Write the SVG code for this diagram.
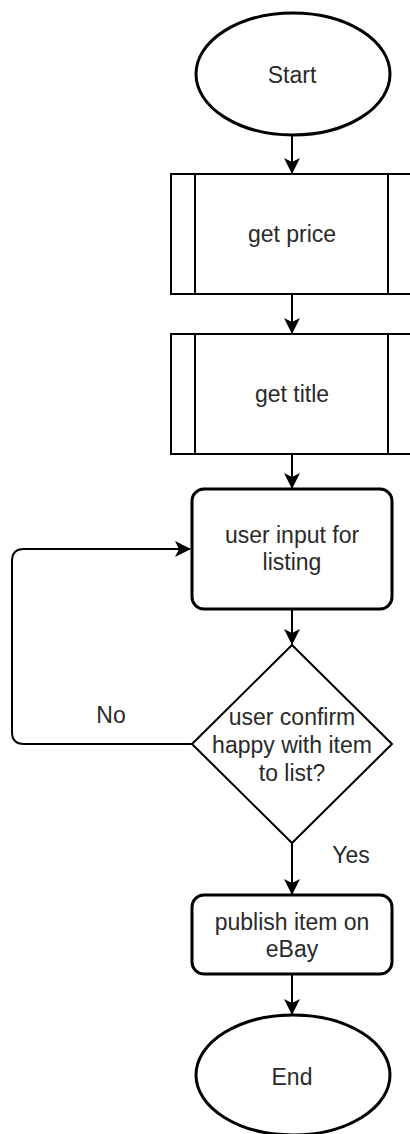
<svg xmlns="http://www.w3.org/2000/svg" width="410" height="1134" viewBox="0 0 410 1134">
  <style>
    .lbl { font-family: "Liberation Sans", Arial, sans-serif; font-size: 23px; fill: #2a2a2a; text-anchor: middle; }
    .term { fill: #fff; stroke: #000; stroke-width: 3; }
    .proc { fill: #fff; stroke: #000; stroke-width: 2; }
    .step { fill: #fff; stroke: #000; stroke-width: 3; }
    .dec { fill: #fff; stroke: #000; stroke-width: 2; }
    .edge { fill: none; stroke: #000; stroke-width: 2; }
  </style>
  <defs>
    <marker id="arrow" markerUnits="userSpaceOnUse" markerWidth="16" markerHeight="16" viewBox="0 0 16 16" refX="15" refY="8" orient="auto">
      <path d="M0,0 L16,8 L0,16 L4,8 Z" fill="#000"/>
    </marker>
  </defs>
  <rect width="410" height="1134" fill="#fff"/>

  <g id="connectors">
    <path class="edge" d="M292,136 L292,173" marker-end="url(#arrow)"/>
    <path class="edge" d="M292,295 L292,333" marker-end="url(#arrow)"/>
    <path class="edge" d="M292,455 L292,488" marker-end="url(#arrow)"/>
    <path class="edge" d="M292,610 L292,644" marker-end="url(#arrow)"/>
    <path class="edge" d="M192,744 L24,744 Q12,744 12,732 L12,561 Q12,549 24,549 L190,549" marker-end="url(#arrow)"/>
    <path class="edge" d="M292,843 L292,894" marker-end="url(#arrow)"/>
    <path class="edge" d="M292,975 L292,1014" marker-end="url(#arrow)"/>
    <text class="lbl" x="111" y="723">No</text>
    <text class="lbl" x="351" y="863">Yes</text>
  </g>

  <g id="start">
    <ellipse class="term" cx="293" cy="74" rx="97" ry="61"/>
    <text class="lbl" x="292" y="83">Start</text>
  </g>

  <g id="get-price">
    <rect class="proc" x="171" y="174" width="242" height="120"/>
    <line class="proc" x1="195" y1="174" x2="195" y2="294"/>
    <line class="proc" x1="388" y1="174" x2="388" y2="294"/>
    <text class="lbl" x="292" y="242">get price</text>
  </g>

  <g id="get-title">
    <rect class="proc" x="171" y="334" width="242" height="120"/>
    <line class="proc" x1="195" y1="334" x2="195" y2="454"/>
    <line class="proc" x1="388" y1="334" x2="388" y2="454"/>
    <text class="lbl" x="292" y="402">get title</text>
  </g>

  <g id="user-input">
    <rect class="step" x="192" y="489" width="200" height="120" rx="12" ry="12"/>
    <text class="lbl" x="292" y="543">user input for</text>
    <text class="lbl" x="292" y="570">listing</text>
  </g>

  <g id="confirm">
    <polygon class="dec" points="292,645 392,744 292,843 192,744"/>
    <text class="lbl" x="292" y="725">user confirm</text>
    <text class="lbl" x="292" y="753">happy with item</text>
    <text class="lbl" x="292" y="781">to list?</text>
  </g>

  <g id="publish">
    <rect class="step" x="192" y="895" width="200" height="79" rx="12" ry="12"/>
    <text class="lbl" x="292" y="930">publish item on</text>
    <text class="lbl" x="292" y="957">eBay</text>
  </g>

  <g id="end">
    <ellipse class="term" cx="293" cy="1075" rx="97" ry="60"/>
    <text class="lbl" x="292" y="1085">End</text>
  </g>
</svg>
